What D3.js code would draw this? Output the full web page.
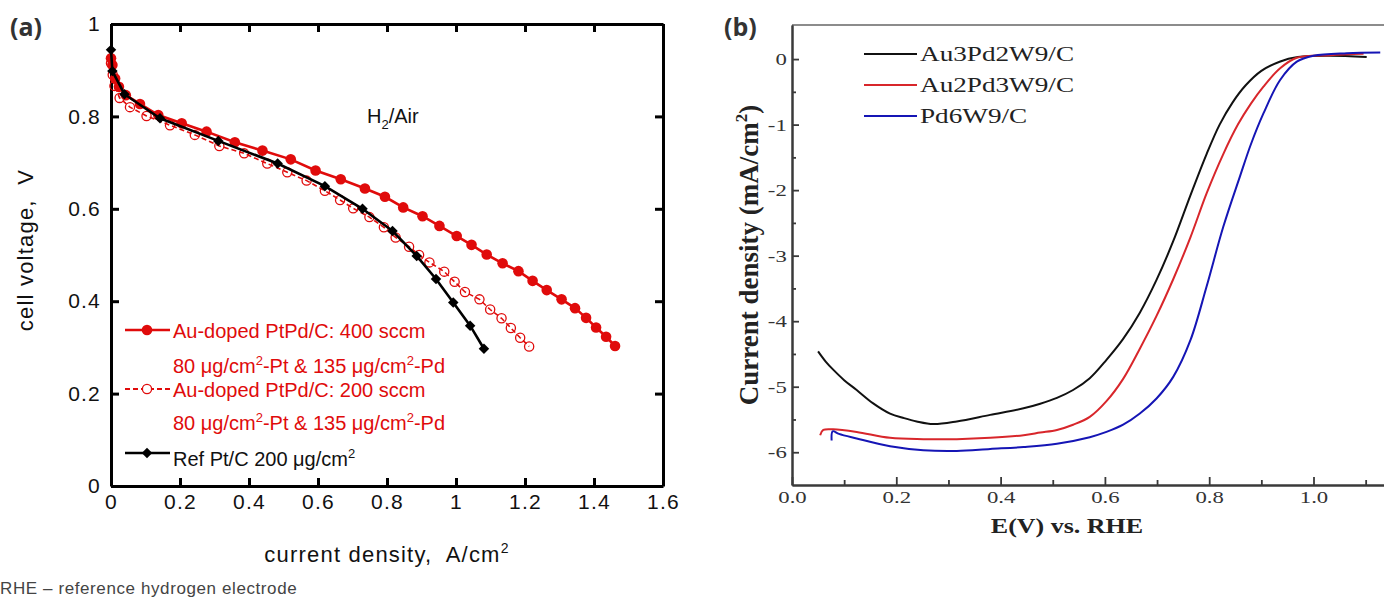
<!DOCTYPE html>
<html>
<head>
<meta charset="utf-8">
<title>fuel cell polarization and ORR</title>
<script src="https://cdnjs.cloudflare.com/ajax/libs/d3/7.8.5/d3.min.js"></script>
<style>
body{
margin:0;
background:#fff
}
svg{
display:block
}
</style>
</head>
<body>
<svg width="1384" height="598"></svg>

<script>

// ---- panel (a): polarization curves, H2/Air ----
var xTicksA = [0, 0.2, 0.4, 0.6, 0.8, 1, 1.2, 1.4, 1.6]
var yTicksA = [0, 0.2, 0.4, 0.6, 0.8, 1]

var au400J = [0, 0.004, 0.012, 0.023, 0.043, 0.084, 0.137, 0.205, 0.277, 0.359, 0.439, 0.521, 0.593, 0.666, 0.736, 0.794, 0.847, 0.903, 0.952, 1.002, 1.045, 1.089, 1.135, 1.181, 1.222, 1.263, 1.306, 1.345, 1.377, 1.406, 1.435, 1.461]
var au400V = [0.926, 0.911, 0.882, 0.864, 0.846, 0.827, 0.803, 0.785, 0.767, 0.744, 0.726, 0.707, 0.683, 0.664, 0.644, 0.626, 0.603, 0.584, 0.563, 0.541, 0.522, 0.501, 0.482, 0.465, 0.444, 0.424, 0.404, 0.385, 0.364, 0.343, 0.323, 0.303]

var au200J = [0, 0.005, 0.01, 0.025, 0.055, 0.103, 0.171, 0.243, 0.314, 0.386, 0.453, 0.511, 0.567, 0.62, 0.664, 0.702, 0.749, 0.791, 0.825, 0.864, 0.893, 0.923, 0.966, 0.996, 1.026, 1.068, 1.099, 1.132, 1.159, 1.186, 1.212]
var au200V = [0.915, 0.89, 0.866, 0.84, 0.82, 0.801, 0.781, 0.76, 0.736, 0.72, 0.698, 0.679, 0.661, 0.639, 0.619, 0.601, 0.582, 0.56, 0.538, 0.518, 0.5, 0.484, 0.464, 0.442, 0.42, 0.404, 0.382, 0.363, 0.342, 0.321, 0.302]

var refJ = [0, 0.004, 0.039, 0.142, 0.311, 0.483, 0.62, 0.729, 0.816, 0.886, 0.942, 0.992, 1.041, 1.081]
var refV = [0.944, 0.898, 0.848, 0.796, 0.747, 0.698, 0.649, 0.6, 0.552, 0.498, 0.448, 0.397, 0.347, 0.297]

// ---- panel (b): ORR polarization curves ----
var xTicksB = [0, 0.2, 0.4, 0.6, 0.8, 1.0]
var xMinorB = [0.1, 0.3, 0.5, 0.7, 0.9, 1.1]
var yTicksB = [0, -1, -2, -3, -4, -5, -6]
var yMinorB = [-0.5, -1.5, -2.5, -3.5, -4.5, -5.5]
var seriesNamesB = ["Au3Pd2W9/C", "Au2Pd3W9/C", "Pd6W9/C"]

var au3E = [0.05, 0.065, 0.079, 0.1, 0.124, 0.155, 0.188, 0.215, 0.239, 0.271, 0.316, 0.38, 0.444, 0.476, 0.508, 0.539, 0.571, 0.603, 0.635, 0.667, 0.699, 0.731, 0.764, 0.795, 0.82, 0.845, 0.87, 0.9, 0.935, 0.97, 1.03, 1.102]
var au3J = [-4.46, -4.62, -4.74, -4.9, -5.05, -5.25, -5.41, -5.48, -5.53, -5.57, -5.53, -5.43, -5.33, -5.26, -5.17, -5.05, -4.87, -4.59, -4.27, -3.87, -3.37, -2.78, -2.08, -1.45, -1.0, -0.66, -0.4, -0.18, -0.04, 0.03, 0.05, 0.03]

var au2E = [0.054, 0.06, 0.079, 0.124, 0.188, 0.252, 0.316, 0.38, 0.444, 0.476, 0.508, 0.539, 0.571, 0.603, 0.635, 0.667, 0.699, 0.731, 0.764, 0.795, 0.827, 0.855, 0.88, 0.904, 0.936, 0.968, 1.032, 1.096]
var au2J = [-5.74, -5.66, -5.65, -5.69, -5.78, -5.8, -5.8, -5.78, -5.74, -5.7, -5.66, -5.58, -5.46, -5.22, -4.88, -4.42, -3.92, -3.36, -2.72, -2.05, -1.45, -1.0, -0.68, -0.42, -0.14, 0.02, 0.06, 0.08]

var pd6E = [0.076, 0.078, 0.09, 0.124, 0.188, 0.252, 0.316, 0.38, 0.444, 0.508, 0.571, 0.603, 0.635, 0.667, 0.699, 0.731, 0.764, 0.795, 0.827, 0.859, 0.88, 0.904, 0.936, 0.968, 1.0, 1.064, 1.128]
var pd6J = [-5.82, -5.68, -5.72, -5.79, -5.91, -5.97, -5.98, -5.95, -5.92, -5.87, -5.77, -5.69, -5.58, -5.41, -5.18, -4.85, -4.29, -3.47, -2.56, -1.79, -1.3, -0.83, -0.32, -0.04, 0.05, 0.09, 0.1]

var svg = d3.select('svg')
var red = "#e00b0b"
var fmtA = d => String(+d.toFixed(1))
var sp2 = ",\u00a0 "

function zip(a, b){
	return a.map((v, i) => [v, b[i]])
}

// text with superscript parts: [text, isSup]
function supText(sel, parts, supSize, lift){
	var raised = false
	parts.forEach(p => {
		var t = sel.append("tspan").text(p[0])
		if(p[1]){
			t.attr("font-size", supSize || 13).attr("dy", -(lift || 8))
			raised = true
		}else if(raised){
			t.attr("dy", lift || 8)
			raised = false
		}
	})
}

// ================= panel (a) =================
var xA = d3.scaleLinear().domain([0, 1.6]).range([111, 663])
var yA = d3.scaleLinear().domain([0, 1]).range([486, 24])

var ga = svg.append("g")
	.attr("font-family", "'Liberation Sans', Arial, sans-serif")

function styleAxisA(g){
	g.select(".domain").attr("stroke", "#000").attr("stroke-width", 3)
	g.selectAll(".tick line").attr("stroke", "#000").attr("stroke-width", 3)
	g.selectAll(".tick text").attr("font-size", 21).attr("fill", "#111")
		.attr("letter-spacing", "1.2px")
		.attr("font-family", "'Liberation Sans', Arial, sans-serif")
}

ga.append("g").attr("transform", "translate(0,486)")
	.call(d3.axisBottom(xA).tickValues(xTicksA).tickFormat(fmtA).tickSize(-8).tickSizeOuter(0).tickPadding(8))
	.call(styleAxisA)
ga.append("g").attr("transform", "translate(0,24)")
	.call(d3.axisTop(xA).tickValues(xTicksA).tickFormat("").tickSize(-8).tickSizeOuter(0))
	.call(styleAxisA)
ga.append("g").attr("transform", "translate(111,0)")
	.call(d3.axisLeft(yA).tickValues(yTicksA).tickFormat(fmtA).tickSize(-8).tickSizeOuter(0).tickPadding(10))
	.call(styleAxisA)
ga.append("g").attr("transform", "translate(663,0)")
	.call(d3.axisRight(yA).tickValues(yTicksA).tickFormat("").tickSize(-8).tickSizeOuter(0))
	.call(styleAxisA)

var lineA = d3.line().x(d => xA(d[0])).y(d => yA(d[1]))

var s400 = zip(au400J, au400V)
var s200 = zip(au200J, au200V)
var sRef = zip(refJ, refV)

ga.append("path").datum(s200).attr("d", lineA)
	.attr("fill", "none").attr("stroke", red).attr("stroke-width", 1.6).attr("stroke-dasharray", "5,3")
ga.selectAll("circle.o200").data(s200).join("circle").attr("class", "o200")
	.attr("cx", d => xA(d[0])).attr("cy", d => yA(d[1])).attr("r", 4.6)
	.attr("fill", "none").attr("stroke", red).attr("stroke-width", 1.3)

ga.append("path").datum(s400).attr("d", lineA)
	.attr("fill", "none").attr("stroke", red).attr("stroke-width", 2.6)
ga.selectAll("circle.f400").data(s400).join("circle").attr("class", "f400")
	.attr("cx", d => xA(d[0])).attr("cy", d => yA(d[1])).attr("r", 5.3)
	.attr("fill", red)

var diamond = d3.symbol().type(d3.symbolDiamond2).size(70)
ga.append("path").datum(sRef).attr("d", lineA)
	.attr("fill", "none").attr("stroke", "#000").attr("stroke-width", 2.6)
ga.selectAll("path.dref").data(sRef).join("path").attr("class", "dref")
	.attr("d", diamond)
	.attr("transform", d => "translate(" + xA(d[0]) + "," + yA(d[1]) + ")")
	.attr("fill", "#000")

// H2/Air
var h2 = ga.append("text").attr("x", 367).attr("y", 123).attr("font-size", 20).attr("fill", "#111")
h2.append("tspan").text("H")
h2.append("tspan").attr("font-size", 13).attr("dy", 6).text("2")
h2.append("tspan").attr("dy", -6).text("/Air")

// legend (a)
var loading = [["80 μg/cm", false], ["2", true], ["-Pt & 135 μg/cm", false], ["2", true], ["-Pd", false]]

ga.append("line").attr("x1", 125).attr("x2", 170).attr("y1", 330).attr("y2", 330)
	.attr("stroke", red).attr("stroke-width", 2.6)
ga.append("circle").attr("cx", 147).attr("cy", 330).attr("r", 5.3).attr("fill", red)
ga.append("text").attr("x", 173).attr("y", 338).attr("font-size", 20).attr("fill", red).text("Au-doped PtPd/C: 400 sccm")
ga.append("text").attr("x", 173).attr("y", 373).attr("font-size", 20).attr("fill", red).call(supText, loading)

ga.append("line").attr("x1", 125).attr("x2", 170).attr("y1", 389).attr("y2", 389)
	.attr("stroke", red).attr("stroke-width", 2).attr("stroke-dasharray", "5,3")
ga.append("circle").attr("cx", 147).attr("cy", 389).attr("r", 4.6).attr("fill", "#fff").attr("stroke", red).attr("stroke-width", 1.3)
ga.append("text").attr("x", 173).attr("y", 397).attr("font-size", 20).attr("fill", red).text("Au-doped PtPd/C: 200 sccm")
ga.append("text").attr("x", 173).attr("y", 430).attr("font-size", 20).attr("fill", red).call(supText, loading)

ga.append("line").attr("x1", 125).attr("x2", 170).attr("y1", 453).attr("y2", 453)
	.attr("stroke", "#000").attr("stroke-width", 2.6)
ga.append("path").attr("d", diamond).attr("transform", "translate(147,453)").attr("fill", "#000")
ga.append("text").attr("x", 173).attr("y", 466).attr("font-size", 20).attr("fill", "#111")
	.call(supText, [["Ref Pt/C 200 μg/cm", false], ["2", true]])

// axis titles (a)
ga.append("text").attr("x", 387).attr("y", 562).attr("text-anchor", "middle")
	.attr("font-size", 22).attr("letter-spacing", "1.2px").attr("fill", "#111")
	.call(supText, [["current density" + sp2 + "A/cm", false], ["2", true]], 14, 9)
ga.append("text").attr("transform", "translate(33,250) rotate(-90)").attr("text-anchor", "middle")
	.attr("font-size", 22).attr("letter-spacing", "1.2px").attr("fill", "#111")
	.text("cell voltage" + sp2 + "V")

ga.append("text").attr("x", 10).attr("y", 36).attr("font-size", 25).attr("font-weight", "bold")
	.attr("fill", "#333").attr("font-family", "'Open Sans', 'DejaVu Sans', sans-serif").text("(a)")

ga.append("text").attr("x", 0).attr("y", 594).attr("font-size", 17).attr("letter-spacing", "0.6px").attr("fill", "#444")
	.text("RHE – reference hydrogen electrode")

// ================= panel (b) =================
// the panel is drawn stretched wider than tall, so its text gets a horizontal scale
var stretch = 1.3
var xB = d3.scaleLinear().domain([0, 1.16]).range([792, 792 + 1.16 * 521.5])
var yB = d3.scaleLinear().domain([-6.5, 0.52]).range([485, 25])

var gb = svg.append("g")
	.attr("font-family", "'Liberation Serif', 'Times New Roman', serif")

var axisCol = "#3a3a3a"

gb.append("line").attr("x1", 792).attr("x2", xB.range()[1]).attr("y1", 25).attr("y2", 25)
	.attr("stroke", "#666").attr("stroke-width", 1.6)

function styleAxisB(g){
	g.select(".domain").attr("stroke", axisCol).attr("stroke-width", 2)
	g.selectAll(".tick line").attr("stroke", axisCol).attr("stroke-width", 1.8)
	g.selectAll(".tick text").attr("font-size", 17.5).attr("fill", "#333")
		.attr("font-family", "'Liberation Serif', 'Times New Roman', serif")
		.attr("transform", "scale(" + stretch + ",1)")
}

// minor ticks first, then labelled majors
gb.append("g").attr("transform", "translate(0,485)")
	.call(d3.axisBottom(xB).tickValues(xMinorB).tickFormat("").tickSize(-5).tickSizeOuter(0))
	.call(styleAxisB)
gb.append("g").attr("transform", "translate(0,485)")
	.call(d3.axisBottom(xB).tickValues(xTicksB).tickFormat(d3.format(".1f")).tickSize(-8).tickSizeOuter(0).tickPadding(6))
	.call(styleAxisB)

gb.append("g").attr("transform", "translate(792,0)")
	.call(d3.axisLeft(yB).tickValues(yMinorB).tickFormat("").tickSize(-4).tickSizeOuter(0))
	.call(styleAxisB)
gb.append("g").attr("transform", "translate(792,0)")
	.call(d3.axisLeft(yB).tickValues(yTicksB).tickFormat(d => d === 0 ? "0" : "-" + Math.abs(d)).tickSize(-7).tickSizeOuter(0).tickPadding(4))
	.call(styleAxisB)

var lineB = d3.line().x(d => xB(d[0])).y(d => yB(d[1])).curve(d3.curveCatmullRom.alpha(0.5))

var colorsB = ["#111", "#d8262b", "#1515b5"]
var dataB = [zip(au3E, au3J), zip(au2E, au2J), zip(pd6E, pd6J)]

gb.selectAll("path.curve").data(dataB).join("path").attr("class", "curve")
	.attr("d", lineB).attr("fill", "none")
	.attr("stroke", (d, i) => colorsB[i]).attr("stroke-width", 2)

// legend (b)
var legB = gb.selectAll("g.leg").data(seriesNamesB).join("g").attr("class", "leg")
	.attr("transform", (d, i) => "translate(0," + (54 + i * 31) + ")")
legB.append("line").attr("x1", 864).attr("x2", 917).attr("stroke", (d, i) => colorsB[i]).attr("stroke-width", 2)
legB.append("text").attr("transform", "translate(920,7) scale(1.36,1)").attr("font-size", 20).attr("fill", "#222")
	.text(d => d)

// axis titles (b)
gb.append("text").attr("transform", "translate(1067,533) scale(" + stretch + ",1)").attr("text-anchor", "middle")
	.attr("font-size", 20).attr("font-weight", "bold").attr("fill", "#222").text("E(V) vs. RHE")
gb.append("text").attr("transform", "translate(758,255) rotate(-90)").attr("text-anchor", "middle")
	.attr("font-size", 27).attr("font-weight", "bold").attr("fill", "#222")
	.call(supText, [["Current density (mA/cm", false], ["2", true], [")", false]], 17, 11)

gb.append("text").attr("x", 724).attr("y", 36).attr("font-size", 25).attr("font-weight", "bold")
	.attr("fill", "#333").attr("font-family", "'Open Sans', 'DejaVu Sans', sans-serif").text("(b)")

</script>
</body>
</html>
